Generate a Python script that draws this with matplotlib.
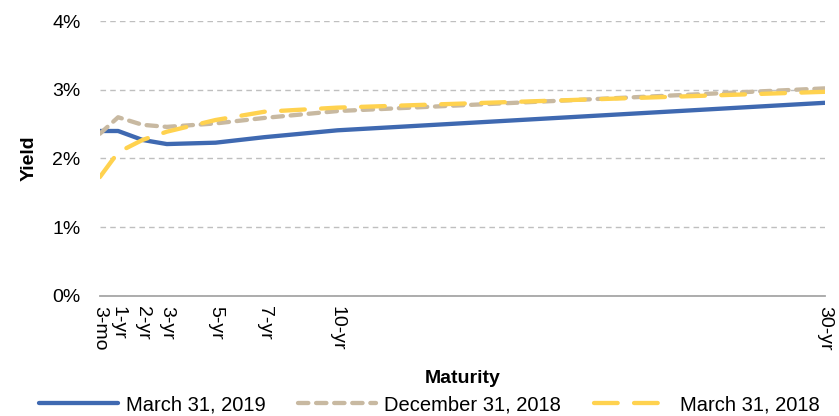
import matplotlib.pyplot as plt
from matplotlib.ticker import FuncFormatter

plt.rcParams['font.family'] = ['Liberation Sans', 'DejaVu Sans']

# maturity in years and tick labels
maturity = [0.25, 1, 2, 3, 5, 7, 10, 30]
tick_labels = ["3-mo", "1-yr", "2-yr", "3-yr", "5-yr", "7-yr", "10-yr", "30-yr"]

# yields in percent
mar_2019 = [2.40, 2.40, 2.27, 2.21, 2.23, 2.31, 2.41, 2.81]
dec_2018 = [2.36, 2.60, 2.49, 2.46, 2.51, 2.59, 2.69, 3.02]
mar_2018 = [1.73, 2.09, 2.27, 2.39, 2.56, 2.68, 2.74, 2.97]

fig = plt.figure(figsize=(8.39, 4.16), dpi=100)
ax = fig.add_axes([0.119, 0.2885, 0.864, 0.661])

ax.plot(maturity, mar_2019, color="#3F69B1", lw=3.1, solid_capstyle="round",
        label="March 31, 2019", zorder=3)
ax.plot(maturity, dec_2018, color="#C8B9A1", lw=3.1, dashes=(2.4, 1.8),
        dash_capstyle="round", label="December 31, 2018", zorder=4)
ax.plot(maturity, mar_2018, color="#FFD24F", lw=3.1, dashes=(5.5, 3.8),
        dash_capstyle="round", label="March 31, 2018", zorder=5)

ax.set_xlim(0.25, 30)
ax.set_ylim(0, 4)
ax.set_yticks([0, 1, 2, 3, 4])
ax.yaxis.set_major_formatter(FuncFormatter(lambda v, p: f"{v:.0f}%"))
ax.set_xticks(maturity)
ax.set_xticklabels(tick_labels, rotation=270, fontsize=14)
ax.tick_params(axis="y", labelsize=14, length=0, pad=14)
ax.tick_params(axis="x", length=0, pad=7)

ax.grid(axis="y", color="#BFBFBF", lw=1, linestyle=(0, (4, 3)))
ax.set_axisbelow(True)
for s in ["top", "right", "left"]:
    ax.spines[s].set_visible(False)
ax.spines["bottom"].set_color("#A6A6A6")
ax.spines["bottom"].set_linewidth(1.3)

ax.set_ylabel("Yield", fontsize=14, fontweight="bold", labelpad=10)
ax.set_xlabel("Maturity", fontsize=14, fontweight="bold", labelpad=14)

fig.legend(loc="lower center", bbox_to_anchor=(0.512, -0.04), ncol=3,
           frameon=False, fontsize=14.5, handlelength=3.9, columnspacing=1.6,
           handletextpad=0.4)

fig.savefig("out.png", dpi=100)
